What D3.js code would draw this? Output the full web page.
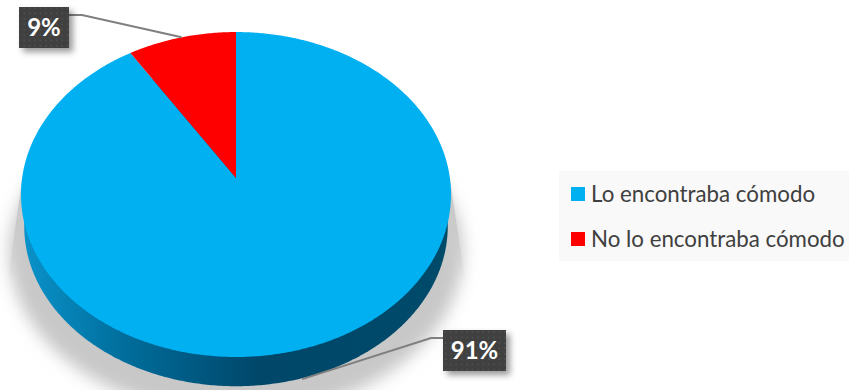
<!DOCTYPE html>
<html lang="es">
<head>
<meta charset="utf-8">
<script src="https://cdn.jsdelivr.net/npm/d3@7/dist/d3.min.js"></script>
<style>
html,body{margin:0;padding:0;background:#fff}
svg{display:block}
text{font-family:Lato,"Open Sans",sans-serif}
</style>
</head>
<body>
<svg id="chart" width="849" height="390"></svg>
<script>
// Survey shares
const categories = ["Lo encontraba cómodo", "No lo encontraba cómodo"];
const shares = [91, 9];
const sliceColors = ["#00B0F0", "#FF0000"];

const svg = d3.select("#chart");
const defs = svg.append("defs");

// Tilted disc: a circle seen in perspective, far edge at the top
const cx = 236, cy = 178, rimX = 213.9, rimY = 160.8, tilt = 0.1016, depth = 30;
function project(angle, k = 1) {
  const u = Math.sin(angle) * k, v = Math.cos(angle) * k, w = 1 + tilt * v;
  return [cx + rimX * u / w, cy - rimY * v / w];
}
const outline = d3.line();
function rimPoints(a0, a1, k = 1) {
  const n = Math.max(2, Math.ceil(Math.abs(a1 - a0) / 0.01));
  return d3.range(n + 1).map(i => project(a0 + (a1 - a0) * i / n, k));
}

const slices = d3.pie().sort(null)(shares);
const fullTurn = 2 * Math.PI;

// Ground shadow: a blurred copy of the disc plus the wedge rising behind it
const blur = defs.append("filter").attr("id", "groundBlur")
  .attr("x", "-10%").attr("y", "-10%").attr("width", "120%").attr("height", "120%");
blur.append("feGaussianBlur").attr("stdDeviation", 8);
svg.append("path")
  .attr("d", outline(rimPoints(0, fullTurn).map(([x, y]) => [cx + (x - cx) * 1.055, y + 58])) + "Z")
  .attr("fill", "#c8c8c8")
  .attr("filter", "url(#groundBlur)");
const wedgeFade = defs.append("linearGradient").attr("id", "wedgeFade")
  .attr("gradientUnits", "userSpaceOnUse")
  .attr("x1", 0).attr("x2", 0).attr("y1", 180).attr("y2", 280);
[[0, 1], [0.5, 1], [1, 0]].forEach(([o, a]) =>
  wedgeFade.append("stop").attr("offset", o).attr("stop-color", "#cacaca").attr("stop-opacity", a));
svg.append("path")
  .attr("d", "M22,180L8,280L465,280L450,180Z")
  .attr("fill", "url(#wedgeFade)");

// Side wall of the disc
const wall = defs.append("linearGradient").attr("id", "wallShade")
  .attr("gradientUnits", "userSpaceOnUse")
  .attr("x1", 21).attr("x2", 451).attr("y1", 0).attr("y2", 0);
[[0, "#0a93cb"], [0.25, "#006c9a"], [0.55, "#00476a"], [1, "#004a6a"]].forEach(([o, c]) =>
  wall.append("stop").attr("offset", o).attr("stop-color", c));
svg.append("path")
  .attr("d", outline(rimPoints(0, fullTurn, 0.985).map(([x, y]) => [x, y + depth + 2.2])) + "Z")
  .attr("fill", "url(#wallShade)");

// Top face of the disc
svg.selectAll("path.slice").data(slices).join("path")
  .attr("class", "slice")
  .attr("d", d => outline([[cx, cy], ...rimPoints(d.startAngle, d.endAngle)]) + "Z")
  .attr("fill", (d, i) => sliceColors[i]);

// Dotted fill and soft shadow of the value tags
const dots = defs.append("pattern").attr("id", "tagDots")
  .attr("patternUnits", "userSpaceOnUse").attr("width", 5.4).attr("height", 5.4);
dots.append("rect").attr("width", 5.4).attr("height", 5.4).attr("fill", "#3f3f3f");
dots.append("rect").attr("x", 2).attr("y", 2).attr("width", 1.4).attr("height", 1.4).attr("fill", "#585858");
const tagShadow = defs.append("filter").attr("id", "tagShadow")
  .attr("x", "-30%").attr("y", "-30%").attr("width", "160%").attr("height", "160%");
tagShadow.append("feDropShadow").attr("dx", 4).attr("dy", 4).attr("stdDeviation", 3)
  .attr("flood-color", "#000").attr("flood-opacity", 0.4);

// Value tags, each with a leader line to the middle of its slice
const tags = [
  {box: [443, 330, 63, 41], elbow: 431, lineY: 338, drop: depth},
  {box: [19, 7, 50, 41], elbow: 82, lineY: 15, drop: 0}
];
slices.forEach((d, i) => {
  const t = tags[i], [bx, by, bw, bh] = t.box;
  const [ax, ay] = project((d.startAngle + d.endAngle) / 2);
  const edge = t.elbow > bx + bw / 2 ? bx + bw : bx;
  svg.append("path")
    .attr("d", outline([[edge, t.lineY], [t.elbow, t.lineY], [ax, ay + t.drop]]))
    .attr("fill", "none").attr("stroke", "#7f7f7f").attr("stroke-width", 2);
  svg.append("rect").attr("x", bx).attr("y", by).attr("width", bw).attr("height", bh)
    .attr("fill", "url(#tagDots)").attr("filter", "url(#tagShadow)");
  svg.append("text").attr("x", bx + bw / 2).attr("y", by + bh / 2 + 8.5)
    .attr("text-anchor", "middle").attr("fill", "#fff")
    .attr("font-size", 24).attr("font-weight", 700)
    .text(d.data + "%");
});

// Legend
svg.append("rect").attr("x", 559).attr("y", 171).attr("width", 290).attr("height", 90).attr("fill", "#f9f9f9");
const legendY = d3.scalePoint().domain(categories).range([194, 239]);
const legend = svg.selectAll("g.entry").data(categories).join("g").attr("class", "entry")
  .attr("transform", d => `translate(0,${legendY(d)})`);
legend.append("rect").attr("x", 571).attr("y", -7).attr("width", 14).attr("height", 14)
  .attr("fill", (d, i) => sliceColors[i]);
legend.append("text").attr("x", 591).attr("y", 8)
  .attr("font-size", 22.3).attr("fill", "#404040")
  .text(d => d);
</script>
</body>
</html>
